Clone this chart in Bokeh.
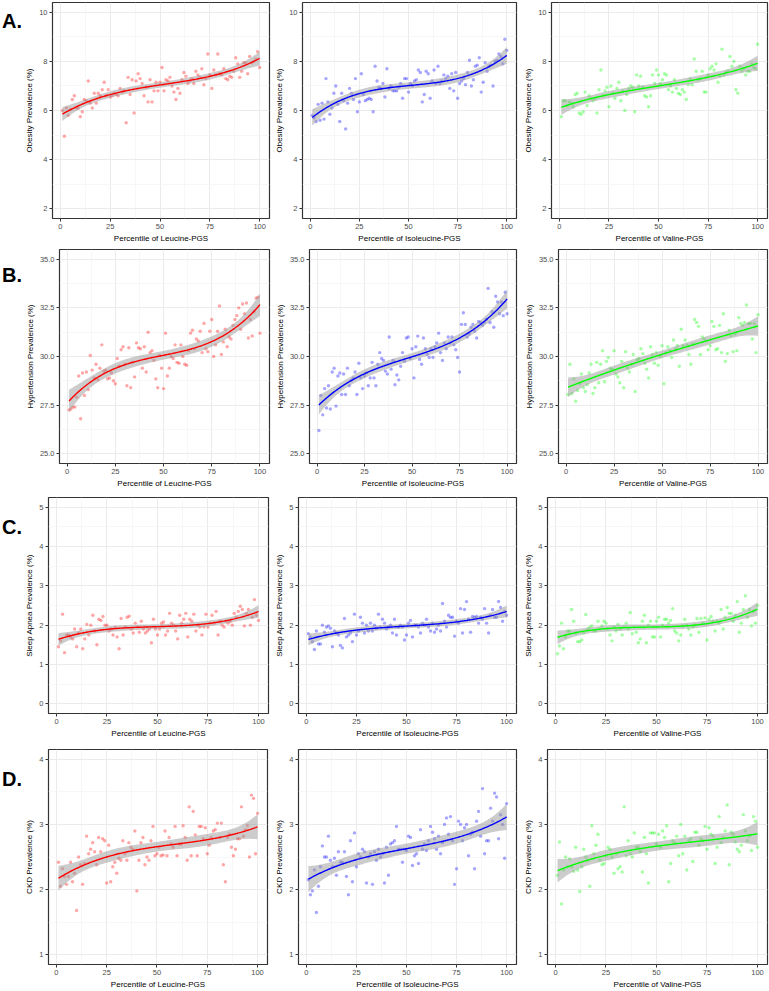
import numpy as np
from bokeh.plotting import figure
from bokeh.layouts import column, row
from bokeh.models import Range1d, FixedTicker, NumeralTickFormatter, Div
from bokeh.embed import file_html
from bokeh.resources import INLINE

# ---------------- data ----------------
percentile = list(range(1, 101))
x_ticks = [0, 25, 50, 75, 100]

leu_obesity = [6.0, 4.95, 6.1, 5.8, 6.05, 6.45, 6.6, 6.1, 6.1, 5.75, 5.95, 6.45, 6.4, 7.2, 6.3, 6.1, 6.7, 6.3, 6.7, 6.6,
               6.85, 7.15, 6.6, 6.85, 6.55, 6.6, 6.7, 6.65, 6.6, 6.9, 6.75, 6.8, 5.5, 7.35, 6.65, 7.25, 5.9, 7.2, 7.5, 7.3,
               7.1, 6.6, 6.95, 6.35, 7.25, 6.35, 6.8, 7.15, 6.8, 7.15, 7.75, 6.8, 7.25, 7.2, 7.35, 7.0, 6.75, 6.45, 6.9, 6.7,
               7.25, 7.55, 7.4, 7.1, 7.2, 7.3, 7.1, 7.6, 7.45, 7.35, 7.7, 7.05, 7.3, 8.3, 7.45, 6.9, 7.65, 7.45, 8.3, 7.5,
               7.45, 7.7, 7.3, 7.25, 7.4, 7.35, 7.6, 8.15, 7.9, 7.35, 7.6, 7.95, 7.95, 7.5, 8.2, 7.95, 8.0, 8.1, 8.4, 7.75]
ile_obesity = [5.8, 5.7, 5.55, 6.25, 5.6, 6.3, 5.65, 7.3, 6.35, 5.85, 6.1, 6.7, 7.0, 6.25, 5.55, 6.7, 6.4, 5.25, 6.3, 6.9,
               6.7, 6.45, 7.3, 5.95, 6.35, 7.5, 6.65, 6.4, 6.45, 6.5, 6.45, 5.95, 7.8, 7.2, 6.95, 6.9, 7.1, 6.55, 7.7, 6.9,
               7.0, 6.8, 6.8, 6.8, 6.95, 7.1, 6.5, 7.3, 7.3, 6.75, 7.1, 7.0, 7.2, 7.25, 7.65, 7.55, 6.35, 6.65, 7.6, 7.5,
               6.5, 7.2, 7.65, 7.1, 7.8, 7.1, 7.2, 7.45, 7.3, 7.4, 6.9, 7.5, 6.8, 7.55, 6.5, 7.1, 7.2, 7.3, 7.05, 7.55,
               8.05, 7.0, 7.25, 7.8, 7.85, 8.15, 6.75, 7.15, 7.95, 7.6, 7.8, 7.85, 7.0, 8.0, 8.05, 8.3, 8.2, 7.9, 8.9, 8.45]
val_obesity = [5.75, 6.4, 6.4, 6.2, 6.35, 6.3, 6.15, 6.65, 6.7, 5.9, 5.85, 5.95, 6.75, 6.2, 6.6, 6.5, 6.4, 6.5, 5.9, 6.85,
               7.65, 6.6, 6.8, 6.95, 6.15, 7.0, 6.7, 6.5, 6.9, 7.15, 6.4, 6.8, 6.0, 6.65, 6.9, 7.0, 6.95, 5.95, 7.45, 7.0,
               7.4, 6.95, 6.6, 6.55, 6.15, 6.6, 7.45, 7.1, 7.65, 7.45, 7.1, 7.25, 7.5, 7.45, 6.85, 7.0, 6.75, 7.25, 6.9, 6.7,
               6.65, 6.85, 6.75, 6.45, 7.05, 7.3, 7.05, 8.1, 7.6, 7.25, 7.3, 7.6, 6.75, 6.75, 7.45, 7.7, 7.8, 7.65, 7.9, 7.15,
               7.4, 8.5, 7.45, 7.55, 7.6, 8.2, 7.8, 8.0, 6.85, 6.7, 7.8, 7.6, 7.7, 7.45, 7.6, 7.6, 7.9, 7.75, 7.7, 8.7]

leu_hypertension = [27.25, 27.3, 27.4, 27.4, 27.9, 29.0, 26.8, 29.15, 28.0, 29.2, 28.3, 30.05, 29.3, 28.9, 29.6, 28.8, 29.4, 30.6, 29.25, 29.3,
                    28.85, 28.9, 29.15, 28.75, 28.6, 29.9, 29.5, 30.35, 30.5, 29.6, 28.5, 30.45, 28.4, 29.7, 28.95, 30.7, 30.45, 30.4, 29.4, 30.5,
                    29.2, 31.25, 30.2, 30.3, 29.8, 28.85, 28.4, 30.05, 29.4, 28.35, 31.2, 29.0, 29.4, 30.0, 29.9, 30.6, 29.7, 29.65, 30.6, 30.0,
                    29.6, 29.55, 30.3, 31.2, 31.35, 30.4, 30.9, 30.8, 31.3, 30.2, 31.7, 30.4, 30.25, 31.3, 31.9, 30.0, 30.6, 31.3, 32.6, 30.1,
                    30.75, 31.4, 30.5, 31.0, 30.9, 31.6, 31.9, 32.1, 32.5, 31.4, 32.7, 32.2, 32.75, 30.95, 31.9, 31.05, 32.3, 33.0, 33.05, 31.2]
ile_hypertension = [26.2, 28.0, 27.0, 28.35, 27.35, 28.5, 27.3, 29.2, 29.4, 27.45, 29.0, 29.15, 28.05, 29.1, 28.05, 29.4, 28.5, 28.75, 28.9, 29.2,
                    28.05, 29.65, 28.9, 28.35, 29.0, 29.15, 28.5, 28.9, 29.7, 28.9, 28.5, 29.6, 30.2, 29.9, 29.8, 29.25, 29.1, 31.0, 29.35, 29.8,
                    28.55, 29.05, 28.8, 29.5, 30.2, 29.75, 30.95, 31.0, 29.9, 30.4, 28.9, 30.5, 31.05, 29.85, 29.6, 30.95, 30.4, 30.1, 29.95, 30.4,
                    29.95, 30.5, 30.7, 31.2, 30.2, 29.8, 30.7, 30.4, 31.0, 30.7, 31.0, 30.6, 30.35, 29.95, 29.2, 31.65, 32.25, 31.65, 31.0, 31.15,
                    31.5, 31.65, 31.3, 30.95, 31.8, 31.75, 31.6, 31.75, 31.9, 33.5, 31.75, 32.3, 31.5, 33.1, 32.8, 32.2, 32.8, 32.1, 33.3, 32.2]
val_hypertension = [28.05, 29.6, 28.1, 28.85, 27.7, 28.25, 28.6, 29.1, 28.4, 28.2, 28.55, 29.15, 29.6, 28.1, 28.4, 29.7, 28.65, 29.6, 30.3, 28.7,
                    29.75, 29.95, 29.4, 29.35, 30.3, 29.1, 28.95, 28.65, 29.75, 28.4, 30.25, 29.4, 29.2, 29.6, 30.1, 28.2, 29.85, 29.9, 30.4, 30.15,
                    29.65, 29.35, 28.9, 30.5, 30.1, 29.65, 30.2, 29.55, 30.0, 30.55, 28.6, 30.2, 30.5, 30.3, 29.95, 30.85, 30.4, 30.55, 29.5, 31.4,
                    30.55, 30.85, 30.6, 30.1, 29.6, 30.65, 31.9, 31.75, 31.55, 30.1, 31.0, 30.9, 30.8, 30.35, 30.55, 31.8, 31.55, 30.35, 30.4, 31.6,
                    30.2, 32.2, 29.75, 30.15, 31.35, 31.05, 30.25, 31.15, 30.3, 32.0, 31.7, 31.6, 31.75, 32.65, 31.7, 31.7, 30.9, 31.7, 30.2, 32.15]

leu_sleep_apnea = [1.45, 1.6, 2.28, 1.3, 1.75, 1.75, 1.7, 1.65, 1.9, 1.45, 1.8, 1.9, 1.4, 1.65, 2.02, 1.75, 2.0, 2.25, 1.85, 1.5,
                   2.15, 2.12, 2.22, 2.0, 2.0, 1.85, 1.9, 1.75, 1.95, 1.7, 1.4, 2.17, 1.75, 1.95, 2.2, 2.23, 1.9, 1.8, 2.05, 1.95,
                   1.82, 2.1, 1.9, 1.8, 1.85, 1.9, 1.55, 2.15, 1.9, 1.75, 1.9, 2.05, 2.08, 1.75, 1.85, 2.3, 2.05, 2.0, 1.85, 1.65,
                   2.25, 2.05, 2.15, 2.3, 1.7, 2.15, 2.1, 2.28, 1.85, 2.0, 1.95, 1.75, 1.95, 2.28, 1.95, 2.05, 2.25, 2.05, 2.35, 1.75,
                   2.1, 2.0, 1.95, 2.1, 2.05, 2.1, 2.0, 2.3, 2.2, 2.35, 2.48, 2.4, 1.98, 2.3, 2.4, 2.0, 2.2, 2.65, 2.25, 2.12]
ile_sleep_apnea = [1.78, 1.7, 1.58, 1.38, 1.85, 1.52, 1.52, 2.0, 1.82, 1.95, 1.98, 1.92, 1.45, 1.85, 1.8, 1.75, 1.48, 1.42, 2.17, 1.7,
                   1.75, 1.8, 1.58, 2.28, 1.75, 1.85, 2.2, 2.05, 1.8, 2.0, 1.85, 2.05, 1.85, 2.0, 1.92, 2.28, 1.95, 2.15, 2.05, 1.9,
                   1.95, 2.0, 1.8, 2.15, 1.75, 1.95, 2.0, 1.95, 1.62, 1.75, 2.05, 2.12, 1.7, 2.0, 2.0, 1.95, 1.8, 2.05, 2.0, 2.15,
                   1.95, 1.85, 2.05, 1.82, 1.9, 2.0, 1.85, 2.55, 2.1, 1.95, 2.25, 2.2, 2.2, 1.72, 2.1, 2.05, 2.42, 1.8, 2.4, 2.6,
                   2.15, 1.82, 2.22, 2.2, 2.22, 2.05, 2.2, 2.15, 2.42, 2.05, 1.8, 2.25, 2.4, 2.2, 2.2, 2.6, 2.45, 2.1, 2.35, 2.25]
val_sleep_apnea = [1.27, 1.47, 2.05, 1.4, 1.7, 1.85, 1.85, 2.4, 2.1, 1.8, 1.58, 1.58, 1.62, 1.8, 2.27, 1.9, 1.95, 1.98, 1.85, 1.85,
                   2.1, 1.9, 1.98, 2.1, 2.05, 1.9, 1.75, 1.6, 1.95, 1.85, 2.02, 1.9, 1.75, 1.95, 2.05, 1.9, 2.32, 1.78, 1.95, 1.82,
                   1.55, 1.65, 2.1, 2.25, 1.55, 2.0, 2.1, 1.7, 1.7, 2.1, 2.2, 1.7, 2.0, 2.15, 2.15, 2.05, 2.12, 2.42, 1.85, 1.8,
                   1.6, 1.75, 1.98, 2.15, 2.0, 1.9, 1.75, 1.95, 2.0, 2.17, 1.82, 2.17, 2.05, 2.18, 1.62, 2.15, 2.22, 2.1, 1.85, 2.1,
                   2.05, 2.4, 1.9, 2.2, 2.45, 2.3, 2.3, 2.1, 2.25, 2.6, 1.82, 2.05, 2.4, 2.75, 2.2, 2.4, 1.98, 2.35, 2.05, 2.5]

leu_ckd = [2.42, 2.05, 2.32, 2.2, 2.08, 2.2, 2.42, 2.12, 2.25, 1.68, 2.5, 2.38, 2.08, 2.4, 2.82, 2.55, 2.62, 2.72, 2.58, 2.38,
           2.8, 2.58, 2.78, 2.75, 2.1, 2.68, 2.12, 2.35, 2.42, 2.25, 2.48, 2.45, 2.75, 2.55, 2.45, 2.72, 2.65, 2.62, 2.9, 1.98,
           2.45, 2.72, 2.8, 2.38, 2.5, 2.45, 2.75, 2.97, 2.52, 2.55, 2.65, 2.52, 2.53, 2.9, 2.52, 2.8, 2.7, 2.65, 2.97, 2.52,
           2.7, 2.7, 2.98, 2.8, 2.45, 3.27, 2.52, 3.2, 2.84, 2.52, 2.97, 2.97, 2.78, 2.95, 2.55, 2.68, 2.8, 2.9, 2.92, 3.02,
           2.8, 3.02, 2.38, 2.12, 2.8, 2.85, 2.65, 2.52, 2.62, 2.78, 2.78, 3.27, 2.82, 2.92, 2.98, 2.5, 3.45, 3.4, 2.55, 3.17]
ile_ckd = [2.15, 1.92, 1.98, 2.3, 1.65, 2.05, 2.35, 2.67, 2.5, 2.5, 2.82, 2.45, 2.35, 2.48, 2.22, 2.58, 2.42, 2.42, 2.58, 2.2,
           1.92, 2.75, 2.12, 2.87, 2.35, 2.55, 2.5, 2.62, 2.58, 2.1, 2.5, 2.55, 2.08, 2.58, 2.45, 2.62, 2.5, 2.55, 2.1, 2.65,
           2.22, 2.7, 2.72, 2.75, 2.97, 2.62, 2.62, 2.42, 2.62, 2.6, 2.82, 2.8, 2.37, 2.52, 2.55, 2.4, 2.92, 2.62, 2.7, 2.6,
           2.75, 2.97, 2.88, 2.78, 2.62, 2.82, 2.55, 2.72, 3.0, 3.1, 2.85, 3.12, 2.75, 2.08, 2.32, 3.05, 3.0, 2.75, 2.95, 3.0,
           2.52, 2.85, 2.88, 2.32, 3.05, 3.2, 2.82, 3.55, 2.55, 2.75, 2.75, 3.25, 3.05, 3.48, 3.42, 2.78, 3.15, 3.0, 2.48, 3.32]
val_ckd = [2.22, 2.73, 1.78, 2.3, 2.5, 2.35, 2.47, 2.35, 2.28, 2.65, 2.3, 1.97, 2.35, 2.62, 2.5, 2.45, 2.05, 2.98, 2.55, 2.68,
           2.85, 2.45, 2.38, 2.4, 2.52, 2.65, 2.62, 2.5, 2.25, 2.55, 2.32, 2.35, 2.27, 3.27, 2.52, 2.75, 2.55, 2.5, 2.87, 2.65,
           2.65, 2.58, 2.27, 2.8, 2.55, 2.1, 2.87, 2.87, 2.87, 2.7, 2.85, 2.65, 2.9, 2.8, 2.98, 2.12, 2.4, 2.75, 2.72, 2.82,
           2.52, 3.0, 2.55, 2.82, 2.3, 2.75, 2.78, 2.43, 2.88, 2.88, 2.68, 2.78, 2.75, 2.97, 2.62, 2.95, 2.85, 2.82, 2.4, 2.65,
           3.12, 2.72, 2.8, 2.9, 3.3, 2.38, 2.88, 2.85, 2.73, 2.62, 2.58, 2.68, 3.15, 2.9, 2.75, 2.82, 2.6, 3.12, 3.05, 2.65]

row_labels = ["A.", "B.", "C.", "D."]
y_titles = ["Obesity Prevalence (%)", "Hypertension Prevalence (%)",
            "Sleep Apnea Prevalence (%)", "CKD Prevalence (%)"]
x_titles = ["Percentile of Leucine-PGS", "Percentile of Isoleucine-PGS", "Percentile of Valine-PGS"]
colors = ["#FF0000", "#0000FF", "#00FF00"]
y_limits = [(2, 10), (25, 35), (0, 5), (1, 4)]
y_ticks = [[2, 4, 6, 8, 10], [25, 27.5, 30, 32.5, 35], [0, 1, 2, 3, 4, 5], [1, 2, 3, 4]]
y_formats = ["0", "0.0", "0", "0"]

series = [[leu_obesity, ile_obesity, val_obesity],
          [leu_hypertension, ile_hypertension, val_hypertension],
          [leu_sleep_apnea, ile_sleep_apnea, val_sleep_apnea],
          [leu_ckd, ile_ckd, val_ckd]]

# ---------------- layout geometry ----------------
label_col_w = 22
label_pad_top = [10, 19, 26, 28]
row_heights = [245, 245, 250, 251]
row_top = [2, 4, 7, 9]
row_bottom = [24, 21, 22, 22]
col_widths = [250, 249, 248]
left_borders = [[24, 22, 23], [31, 28, 31], [20, 17, 19], [17, 17, 19]]
right_borders = [[3, 5, 2], [3, 5, 2], [4, 5, 2], [5, 5, 2]]

FONT = "Liberation Sans"


def smooth_fit(x, y, deg=3, n_out=200):
    x = np.asarray(x, float) / 100.0
    y = np.asarray(y, float)
    X = np.vander(x, deg + 1)
    beta, *_ = np.linalg.lstsq(X, y, rcond=None)
    resid = y - X @ beta
    dof = len(x) - (deg + 1)
    s2 = resid @ resid / dof
    cov = s2 * np.linalg.inv(X.T @ X)
    xs = np.linspace(x.min(), x.max(), n_out)
    Xs = np.vander(xs, deg + 1)
    yh = Xs @ beta
    se = np.sqrt(np.einsum("ij,jk,ik->i", Xs, cov, Xs))
    t = 1.985
    return xs * 100, yh, yh - t * se, yh + t * se


def minor_between(ticks):
    return [(a + b) / 2 for a, b in zip(ticks[:-1], ticks[1:])]


rows = []
for r in range(4):
    items = []
    items.append(Div(
        text=('<div style="font-family:\'%s\';font-size:20px;font-weight:bold;color:#000;'
              'white-space:nowrap;padding-top:%dpx;padding-left:2px;line-height:23px;">%s</div>'
              % (FONT, label_pad_top[r], row_labels[r])),
        width=label_col_w, height=row_heights[r], margin=0))
    lo, hi = y_limits[r]
    pad = (hi - lo) * 0.05
    for c in range(3):
        p = figure(width=col_widths[c], height=row_heights[r],
                   output_backend="svg", toolbar_location=None,
                   x_range=Range1d(1 - 0.05 * 99, 100 + 0.05 * 99),
                   y_range=Range1d(lo - pad, hi + pad),
                   min_border_left=left_borders[r][c], min_border_right=right_borders[r][c],
                   min_border_top=row_top[r], min_border_bottom=row_bottom[r])
        p.background_fill_color = "white"
        p.border_fill_color = "white"
        p.outline_line_color = "#333333"
        p.outline_line_width = 1.2

        p.xaxis.ticker = FixedTicker(ticks=x_ticks, minor_ticks=minor_between(x_ticks))
        p.yaxis.ticker = FixedTicker(ticks=y_ticks[r], minor_ticks=minor_between(y_ticks[r]))
        p.yaxis.formatter = NumeralTickFormatter(format=y_formats[r])
        p.xaxis.axis_label = x_titles[c]
        p.yaxis.axis_label = y_titles[r]
        for ax in (p.xaxis[0], p.yaxis[0]):
            ax.axis_line_color = None
            ax.major_tick_line_color = "#333333"
            ax.major_tick_out = 3
            ax.major_tick_in = 0
            ax.minor_tick_out = 0
            ax.minor_tick_in = 0
            ax.major_label_text_font = FONT
            ax.major_label_text_font_size = "7.5px"
            ax.major_label_text_color = "#4D4D4D"
            ax.major_label_standoff = 2
            ax.axis_label_text_font = FONT
            ax.axis_label_text_font_size = "8px"
            ax.axis_label_text_font_style = "normal"
            ax.axis_label_text_color = "#000000"
            ax.axis_label_standoff = 2
        for g in (p.xgrid[0], p.ygrid[0]):
            g.grid_line_color = "#EBEBEB"
            g.grid_line_width = 1
            g.minor_grid_line_color = "#F4F4F4"
            g.minor_grid_line_width = 0.7

        ys = series[r][c]
        xs, yh, ylo, yhi = smooth_fit(percentile, ys)
        p.scatter(percentile, ys, size=3.4, fill_color=colors[c], fill_alpha=0.35, line_color=None)
        p.varea(x=xs, y1=ylo, y2=yhi, fill_color="#999999", fill_alpha=0.5)
        p.line(xs, yh, line_color=colors[c], line_width=1.4)
        items.append(p)
    rows.append(row(*items, spacing=0))

layout = column(*rows, spacing=0)
open("out.html", "w").write(file_html(layout, INLINE))
